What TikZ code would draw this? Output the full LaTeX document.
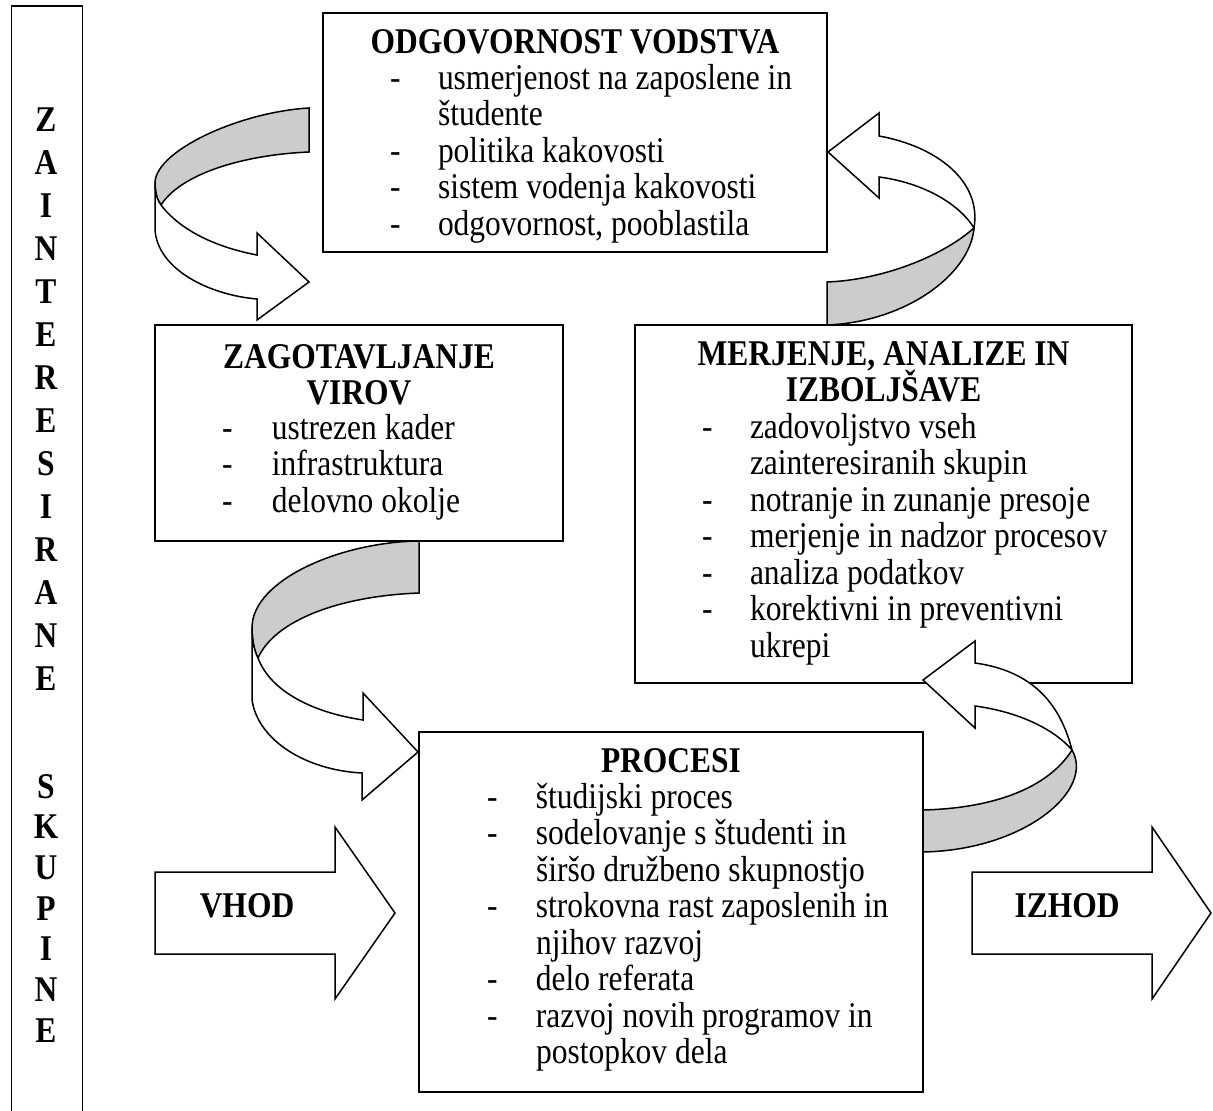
\documentclass[tikz,border=0pt]{standalone}
\usepackage{fontspec}
\setmainfont{Liberation Serif}[FakeStretch=0.87]
\definecolor{bandgray}{RGB}{204,204,204}
\begin{document}
\begin{tikzpicture}[x=1pt,y=-1pt,
  every node/.style={inner sep=0pt, outer sep=0pt},
  txt/.style={font=\fontsize{36.2}{36.5}\selectfont, anchor=base west},
  ttl/.style={font=\fontsize{36.2}{36.5}\selectfont\bfseries, anchor=base},
  box/.style={draw, line width=1.8pt, rectangle},
  blk/.style={draw, line width=1.5pt, line join=miter, fill=white},
  band/.style={draw, line width=1.5pt, fill=bandgray},
]
\useasboundingbox (0,0) rectangle (1213,1111);
\fill[white] (0,0) rectangle (1213,1111);

% boxes
\node[box, minimum width=71pt, minimum height=1124pt] (side) at (47,568) {};
\node[box, minimum width=504pt, minimum height=239pt] (lead) at (575,132.5) {};
\node[box, minimum width=408pt, minimum height=216pt] (res) at (359,433) {};
\node[box, minimum width=497pt, minimum height=358pt] (meas) at (883.5,504) {};
\node[box, minimum width=504pt, minimum height=360pt] (proc) at (671,912) {};

% side text
\node[font=\fontsize{36.2}{43}\selectfont\bfseries, anchor=base] (sideA) at (46,131)
 {\begin{tabular}[t]{@{}c@{}}Z\\A\\I\\N\\T\\E\\R\\E\\S\\I\\R\\A\\N\\E\end{tabular}};
\node[font=\fontsize{36.2}{40.7}\selectfont\bfseries, anchor=base] (sideB) at (46,798)
 {\begin{tabular}[t]{@{}c@{}}S\\K\\U\\P\\I\\N\\E\end{tabular}};

% titles
\node[ttl] (leadT) at (575,53) {ODGOVORNOST VODSTVA};
\node[ttl] (resT) at (359,368) {\begin{tabular}[t]{@{}c@{}}ZAGOTAVLJANJE\\VIROV\end{tabular}};
\node[ttl] (measT) at (883.5,365) {\begin{tabular}[t]{@{}c@{}}MERJENJE, ANALIZE IN\\\smash{IZBOLJŠAVE}\end{tabular}};
\node[ttl] (procT) at (671,772) {PROCESI};

% lists
\node[txt] (leadL) at (390,89) {\begin{tabular}[t]{@{}p{48pt}@{}l@{}}
-&usmerjenost na zaposlene in\\
&študente\\
-&politika kakovosti\\
-&sistem vodenja kakovosti\\
-&odgovornost, pooblastila\end{tabular}};
\node[txt] (resL) at (222,439) {\begin{tabular}[t]{@{}p{50pt}@{}l@{}}
-&ustrezen kader\\
-&infrastruktura\\
-&delovno okolje\end{tabular}};
\node[txt] (measL) at (702,438) {\begin{tabular}[t]{@{}p{48pt}@{}l@{}}
-&zadovoljstvo vseh\\
&zainteresiranih skupin\\
-&notranje in zunanje presoje\\
-&merjenje in nadzor procesov\\
-&analiza podatkov\\
-&korektivni in preventivni\\
&ukrepi\end{tabular}};
\node[txt] (procL) at (487,808) {\begin{tabular}[t]{@{}p{49pt}@{}l@{}}
-&študijski proces\\
-&sodelovanje s študenti in\\
&širšo družbeno skupnostjo\\
-&strokovna rast zaposlenih in\\
&njihov razvoj\\
-&delo referata\\
-&razvoj novih programov in\\
&postopkov dela\end{tabular}};

% curved arrow 1 (lead -> res)
\draw[band] (309,108) .. controls (240,112) and (157,150) .. (155,182)
  .. controls (155,192) and (157,200) .. (161,205)
  .. controls (180,175) and (240,155) .. (309,152) -- cycle;
\draw[blk] (155,182) -- (155,230) .. controls (158,270) and (210,295) .. (257,299)
  -- (257,320) -- (309,282) -- (257,233) -- (257,255)
  .. controls (215,247) and (180,230) .. (161,205)
  .. controls (157,200) and (155,192) .. (155,182) -- cycle;

% curved arrow 3 (res -> proc)
\draw[band] (419,541) .. controls (340,542) and (253,580) .. (252,627)
  .. controls (252,640) and (254,650) .. (258,658)
  .. controls (275,620) and (340,596) .. (419,593) -- cycle;
\draw[blk] (252,627) -- (252,700) .. controls (258,740) and (305,770) .. (362,773)
  -- (362,800) -- (418,752) -- (363,693) -- (363,720)
  .. controls (310,712) and (270,690) .. (258,658)
  .. controls (254,650) and (252,640) .. (252,627) -- cycle;

% curved arrow 2 (meas -> lead)
\draw[band] (974,228) .. controls (970,275) and (905,322) .. (827,325)
  -- (827,282) .. controls (880,280) and (940,258) .. (974,228) -- cycle;
\draw[blk] (879,136) .. controls (935,146) and (982,180) .. (974,228)
  .. controls (960,205) and (925,183) .. (879,177)
  -- (879,198) -- (828,152) -- (879,113) -- cycle;

% curved arrow 4 (proc -> meas)
\draw[band] (1072,750) .. controls (1095,790) and (1025,850) .. (923,852)
  -- (923,810) .. controls (1000,808) and (1050,785) .. (1072,750) -- cycle;
\draw[blk] (975,663) .. controls (1040,672) and (1062,712) .. (1072,750)
  .. controls (1055,730) and (1020,712) .. (975,706)
  -- (975,728) -- (923,680) -- (975,641) -- cycle;

% input / output arrows
\draw[blk] (155,872) -- (335,872) -- (335,827) -- (395,913) -- (335,999) -- (335,954) -- (155,954) -- cycle;
\draw[blk] (972,872) -- (1152,872) -- (1152,827) -- (1211,913) -- (1152,999) -- (1152,954) -- (972,954) -- cycle;
\node[ttl] (inT) at (247,917) {VHOD};
\node[ttl] (outT) at (1067,917) {IZHOD};
\end{tikzpicture}
\end{document}
